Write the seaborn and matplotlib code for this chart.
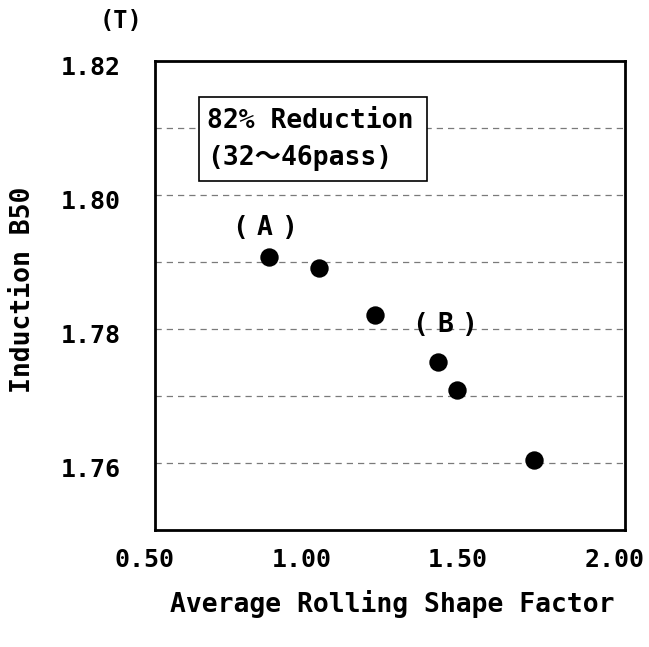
import matplotlib
matplotlib.use("Agg")
import matplotlib.pyplot as plt
from matplotlib.patches import Rectangle
import matplotlib.transforms as mtransforms
import seaborn as sns
import pandas as pd

shape_factor = [0.866, 1.024, 1.203, 1.405, 1.463, 1.711]
induction_b50 = [1.7907, 1.7891, 1.7820, 1.7750, 1.7709, 1.7605]
x_ticks = [0.50, 1.00, 1.50, 2.00]
y_ticks = [1.76, 1.78, 1.80, 1.82]
grid_levels = [1.76, 1.77, 1.78, 1.79, 1.80, 1.81]

sns.set_style("white")
FAM = ['DejaVu Sans Mono', 'Noto Sans CJK JP']
plt.rcParams['font.family'] = FAM
plt.rcParams['font.weight'] = 'bold'
for k in ['text.color', 'axes.labelcolor', 'xtick.color', 'ytick.color']:
    plt.rcParams[k] = 'black'

df = pd.DataFrame({"x": shape_factor, "y": induction_b50})

W, H = 649, 647
L, R, T, B = 154.5, 625, 60.5, 530
fig = plt.figure(figsize=(6.49, 6.47), dpi=100)
ax = fig.add_axes([L/W, 1-B/H, (R-L)/W, (B-T)/H])
AW, AH = R - L, B - T

for g in grid_levels:
    ax.axhline(g, color="#7a7a7a", lw=0.9, ls=(0, (5, 4)), zorder=0)

sns.scatterplot(data=df, x="x", y="y", ax=ax, s=175, color="black",
                edgecolor="black", linewidth=0, zorder=3, legend=False)

ax.set_xlim(0.5, 2.0)
ax.set_ylim(1.75, 1.82)
ax.set_xticks(x_ticks)
ax.set_xticklabels([f"{v:.2f}" for v in x_ticks], fontsize=18, fontweight='bold')
ax.set_yticks(y_ticks)
ax.set_yticklabels([f"{v:.2f}" for v in y_ticks], fontsize=18, fontweight='bold')
ax.tick_params(axis='y', length=0, pad=24)
ax.tick_params(axis='x', length=0, pad=13)
for sp in ax.spines.values():
    sp.set_color("black")
    sp.set_linewidth(2)

# small pixel shifts of tick labels like the reference
xoff = mtransforms.ScaledTranslation(-10/100, 0, fig.dpi_scale_trans)
for lab in ax.get_xticklabels():
    lab.set_transform(lab.get_transform() + xoff)
yoff = mtransforms.ScaledTranslation(0, -5/100, fig.dpi_scale_trans)
for lab in ax.get_yticklabels():
    lab.set_transform(lab.get_transform() + yoff)

ax.set_xlabel("Average Rolling Shape Factor", fontsize=19, fontweight='bold')
ax.set_ylabel("Induction B50", fontsize=19, fontweight='bold')
ax.xaxis.set_label_coords((392 - L)/AW, (B-590)/AH)
ax.yaxis.set_label_coords((36 - L)/AW, (B-290)/AH)

ax.text((121-L)/AW, (B-21)/AH, "(T)", transform=ax.transAxes, fontsize=17,
        fontweight='bold', ha="center", va="center")

# annotation box
bx0, bx1 = (199-L)/AW, (427-L)/AW
by0, by1 = (B-181)/AH, (B-97)/AH
ax.add_patch(Rectangle((bx0, by0), bx1-bx0, by1-by0, transform=ax.transAxes,
                       fc="white", ec="black", lw=1.2, zorder=2))
ax.text((207-L)/AW, (B-121)/AH, "82% Reduction", transform=ax.transAxes,
        fontsize=19, fontweight='bold', ha="left", va="center", zorder=4)
ax.text((207-L)/AW, (B-158)/AH, "(32～46pass)", transform=ax.transAxes,
        fontsize=19, fontweight='bold', ha="left", va="center", zorder=4)

def spaced_label(x, y, letter):
    for dx, s in [(-18, "("), (0, letter), (18, ")")]:
        ax.annotate(s, (x, y), xytext=(dx, 0), textcoords="offset points",
                    fontsize=19, fontweight='bold', ha="center", va="center")

spaced_label(0.852, 1.7951, "A")
spaced_label(1.426, 1.7805, "B")

fig.savefig("out.png", dpi=100)
